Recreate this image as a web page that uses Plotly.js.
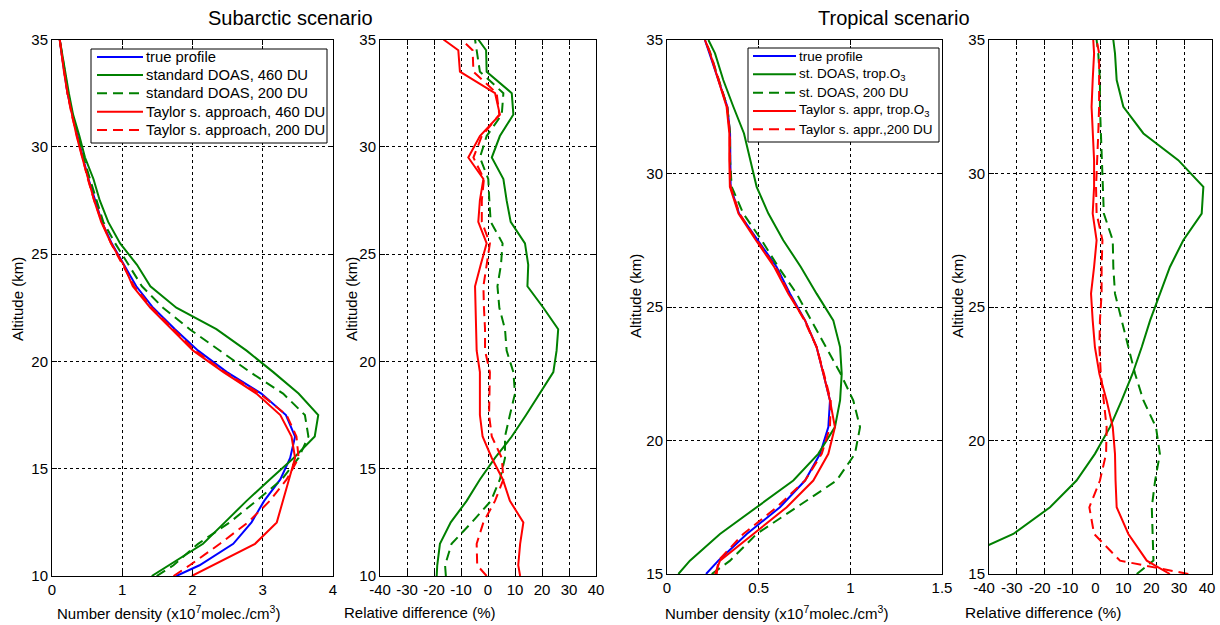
<!DOCTYPE html>
<html>
<head>
<meta charset="utf-8">
<script src="https://cdn.plot.ly/plotly-3.0.1.min.js"></script>
<style>html,body{margin:0;padding:0;background:#fff;}#chart{width:1220px;height:625px;}</style>
</head>
<body>
<div id="chart"></div>
<script>
// ---------- DATA ----------
// Subarctic scenario altitudes (km)
const altSub = [10, 10.5, 11.5, 12.5, 13.5, 14.5, 15.5, 16.5, 17.5, 18.5, 19.5, 20.5, 21.5, 22.5, 23.5, 24.5, 25.5, 26.5, 27.5, 28.5, 29.5, 30.5, 31.5, 32.5, 33.5, 34.5, 35];
// number density (x10^7 molec./cm^3)
const subTrue   = [1.77, 2.10, 2.58, 2.84, 3.02, 3.25, 3.39, 3.46, 3.33, 2.98, 2.49, 2.08, 1.75, 1.44, 1.20, 1.02, 0.85, 0.71, 0.61, 0.52, 0.44, 0.36, 0.29, 0.22, 0.17, 0.13, 0.11];
const subStd460 = [1.42, 1.67, 2.15, 2.46, 2.77, 3.10, 3.44, 3.74, 3.79, 3.51, 3.15, 2.77, 2.34, 1.77, 1.40, 1.21, 0.97, 0.80, 0.68, 0.59, 0.47, 0.39, 0.30, 0.24, 0.19, 0.14, 0.11];
const subStd200 = [1.49, 1.73, 2.08, 2.53, 2.91, 3.27, 3.51, 3.65, 3.60, 3.29, 2.82, 2.39, 1.96, 1.58, 1.28, 1.09, 0.90, 0.73, 0.63, 0.54, 0.45, 0.37, 0.29, 0.23, 0.18, 0.13, 0.11];
const subTay460 = [1.99, 2.29, 2.89, 3.20, 3.29, 3.38, 3.46, 3.41, 3.25, 2.91, 2.44, 2.01, 1.70, 1.40, 1.15, 1.02, 0.84, 0.70, 0.60, 0.51, 0.43, 0.35, 0.28, 0.22, 0.17, 0.13, 0.11];
const subTay200 = [1.73, 1.96, 2.39, 2.79, 3.10, 3.34, 3.51, 3.48, 3.34, 2.96, 2.46, 2.04, 1.73, 1.42, 1.17, 1.00, 0.84, 0.71, 0.60, 0.51, 0.43, 0.36, 0.28, 0.22, 0.17, 0.13, 0.11];
// relative difference (%)
const subRelStd460 = [-19.0, -18.8, -17.8, -13.8, -7.9, -3.0, 2.6, 8.8, 14.1, 19.3, 24.2, 25.4, 26.0, 20.5, 14.6, 14.9, 13.7, 8.4, 6.9, 5.7, 1.4, 4.4, 9.4, 8.8, -0.5, -0.7, -3.6];
const subRelStd200 = [-15.6, -15.9, -13.5, -6.0, 1.1, 4.4, 6.3, 6.3, 8.1, 10.0, 9.4, 6.9, 6.3, 4.2, 3.5, 4.8, 5.4, 1.0, 0.5, 0.1, -3.0, -0.5, 5.1, 5.7, -3.0, -4.2, -4.8];
const subRelTay460 = [11.9, 11.2, 11.9, 13.1, 8.1, 5.5, 1.4, -2.0, -3.0, -3.0, -3.0, -4.2, -4.4, -4.8, -4.8, -2.7, -0.5, -3.6, -3.0, -1.7, -7.3, -3.0, 4.4, 2.6, -10.4, -11.0, -16.5];
const subRelTay200 = [-0.5, -4.0, -4.2, -1.7, 2.6, 5.7, 5.1, 1.4, 0.4, 0.5, 0.7, -1.1, -1.1, -1.5, -1.7, -0.5, 0.7, -2.3, -2.3, -1.5, -5.4, -2.3, 4.2, 3.2, -5.4, -5.7, -9.8];

// Tropical scenario altitudes (km)
const altTrop = [15, 15.5, 16.5, 17.5, 18.5, 19.5, 20.5, 21.5, 22.5, 23.5, 24.5, 25.5, 26.5, 27.5, 28.5, 29.5, 30.5, 31.5, 32.5, 33.5, 34.5, 35];
const tropTrue    = [0.213, 0.28, 0.435, 0.616, 0.753, 0.835, 0.88, 0.889, 0.853, 0.816, 0.753, 0.671, 0.598, 0.493, 0.393, 0.347, 0.344, 0.344, 0.329, 0.28, 0.235, 0.207];
const tropStdTrop = [0.062, 0.125, 0.289, 0.489, 0.689, 0.825, 0.916, 0.944, 0.953, 0.944, 0.907, 0.816, 0.73, 0.634, 0.553, 0.489, 0.453, 0.42, 0.362, 0.307, 0.262, 0.226];
const tropStd200  = [0.244, 0.344, 0.489, 0.707, 0.925, 1.025, 1.053, 1.016, 0.947, 0.867, 0.785, 0.707, 0.607, 0.516, 0.416, 0.353, 0.344, 0.344, 0.329, 0.282, 0.237, 0.209];
const tropTayTrop = [0.262, 0.289, 0.471, 0.653, 0.798, 0.88, 0.916, 0.889, 0.853, 0.816, 0.753, 0.662, 0.585, 0.485, 0.39, 0.343, 0.34, 0.34, 0.325, 0.28, 0.235, 0.207];
const tropTay200  = [0.271, 0.28, 0.416, 0.598, 0.753, 0.844, 0.889, 0.893, 0.856, 0.816, 0.749, 0.667, 0.592, 0.49, 0.395, 0.347, 0.343, 0.343, 0.328, 0.281, 0.236, 0.208];
const tropRelStdTrop = [-60, -52.4, -31.3, -18.1, -8.6, -2.0, 3.4, 7.6, 11.5, 14.8, 17.8, 21.3, 24.9, 29.7, 36.3, 36.9, 27.9, 15.4, 8.2, 5.8, 5.2, 4.6];
const tropRelStd200  = [13.0, 19.0, 18.7, 18.4, 19.6, 21.3, 19.9, 15.4, 12.4, 10.0, 7.6, 5.2, 4.6, 4.4, 1.2, 0.8, 0.5, 0.1, -0.2, -0.2, -0.8, -1.4];
const tropRelTayTrop = [24.9, 16.6, 10.0, 5.8, 5.4, 5.2, 4.4, 2.2, -0.4, -2.0, -2.8, -3.4, -2.3, -1.4, -2.8, -2.3, -2.3, -2.8, -3.2, -2.8, -2.3, -2.6];
const tropRelTay200  = [31.5, 7.0, -2.3, -4.0, -0.2, 2.0, 2.2, 1.2, 0.1, -0.4, -0.2, 0.4, 0.4, 0.7, -1.4, -1.6, -1.1, -0.8, -0.5, -0.5, -0.5, -1.4];

// tick labels
const subAltTicks = [10, 15, 20, 25, 30, 35];
const tropAltTicks = [15, 20, 25, 30, 35];
const subDensTicks = [0, 1, 2, 3, 4];
const tropDensTicks = [0, 0.5, 1, 1.5];
const tropDensLabels = ['0', '0.5', '1', '1.5'];
const relTicks = [-40, -30, -20, -10, 0, 10, 20, 30, 40];
const relLabels = ['-40', '-30', '-20', '-10', '0', '10', '20', '30', '40'];

const subNames = ['true profile', 'standard DOAS, 460 DU', 'standard DOAS, 200 DU', 'Taylor s. approach, 460 DU', 'Taylor s. approach, 200 DU'];
const tropNames = ['true profile', 'st. DOAS, trop.O<sub>3</sub>', 'st. DOAS, 200 DU', 'Taylor s. appr, trop.O<sub>3</sub>', 'Taylor s. appr.,200 DU'];

// ---------- STYLE ----------
const W = 1220, H = 625;
const fx = p => p / W;
const fy = p => 1 - p / H;
const FONT = 'Liberation Sans, Arial, Helvetica, sans-serif';
const BLUE = '#0000ff', GREEN = '#008000', RED = '#ff0000';
const LW = 2;
const DASH = '10px,6px';
const seriesColors = [BLUE, GREEN, GREEN, RED, RED];
const seriesDash = ['solid', 'solid', DASH, 'solid', DASH];

function line(x, y, idx, name, xa, ya) {
  return {
    type: 'scatter', mode: 'lines', x: x, y: y, name: name,
    xaxis: xa, yaxis: ya, showlegend: false,
    line: {color: seriesColors[idx], width: LW, dash: seriesDash[idx]},
    hoverinfo: 'skip'
  };
}

const traces = [
  line(subTrue, altSub, 0, subNames[0], 'x', 'y'),
  line(subStd460, altSub, 1, subNames[1], 'x', 'y'),
  line(subStd200, altSub, 2, subNames[2], 'x', 'y'),
  line(subTay460, altSub, 3, subNames[3], 'x', 'y'),
  line(subTay200, altSub, 4, subNames[4], 'x', 'y'),

  line(subRelStd460, altSub, 1, subNames[1], 'x2', 'y2'),
  line(subRelStd200, altSub, 2, subNames[2], 'x2', 'y2'),
  line(subRelTay460, altSub, 3, subNames[3], 'x2', 'y2'),
  line(subRelTay200, altSub, 4, subNames[4], 'x2', 'y2'),

  line(tropTrue, altTrop, 0, tropNames[0], 'x3', 'y3'),
  line(tropStdTrop, altTrop, 1, tropNames[1], 'x3', 'y3'),
  line(tropStd200, altTrop, 2, tropNames[2], 'x3', 'y3'),
  line(tropTayTrop, altTrop, 3, tropNames[3], 'x3', 'y3'),
  line(tropTay200, altTrop, 4, tropNames[4], 'x3', 'y3'),

  line(tropRelStdTrop, altTrop, 1, tropNames[1], 'x4', 'y4'),
  line(tropRelStd200, altTrop, 2, tropNames[2], 'x4', 'y4'),
  line(tropRelTayTrop, altTrop, 3, tropNames[3], 'x4', 'y4'),
  line(tropRelTay200, altTrop, 4, tropNames[4], 'x4', 'y4')
];

function axis(domain, range, anchor, tickvals, ticktext, extra) {
  const a = {
    domain: domain, range: range, anchor: anchor,
    showline: true, linecolor: '#000', linewidth: 1, mirror: 'ticks',
    ticks: 'inside', ticklen: 5, tickcolor: '#000', tickwidth: 1,
    showgrid: true, gridcolor: '#000', gridwidth: 1, griddash: '3px,3px',
    zeroline: false, tickangle: 0, fixedrange: true,
    ticklabeloverflow: 'allow',
    tickmode: 'array', tickvals: tickvals,
    tickfont: {family: FONT, size: 15, color: '#000'}
  };
  if (ticktext) a.ticktext = ticktext;
  return Object.assign(a, extra || {});
}

const ySub = [fy(576), fy(39.5)];
const yTrop = [fy(574), fy(40)];

function ann(x, y, text, size, angle, anchor) {
  return {xref: 'paper', yref: 'paper', x: fx(x), y: fy(y), text: text, showarrow: false,
          xanchor: anchor || 'center', yanchor: 'middle', textangle: angle || 0,
          font: {family: FONT, size: size, color: '#000'}};
}

const densTitle = 'Number density (x10<sup>7</sup>molec./cm<sup>3</sup>)';
const relTitle = 'Relative difference (%)';
const altTitle = 'Altitude (km)';

const annotations = [
  ann(290.5, 18, 'Subarctic scenario', 20),
  ann(893.5, 18, 'Tropical scenario', 20),
  ann(168, 612, densTitle, 15),
  ann(419, 612, relTitle, 15),
  ann(776, 612, densTitle, 15),
  ann(1043, 612, relTitle, 15.5),
  ann(18, 299, altTitle, 15, -90),
  ann(352, 299, altTitle, 15, -90),
  ann(635, 296, altTitle, 15, -90),
  ann(957, 296, altTitle, 15, -90)
];
const shapes = [];

// Hand-placed legend boxes (MATLAB-style, tight rows)
function addLegend(names, box, lineX0, lineX1, textX, rowY, fsize) {
  shapes.push({type: 'rect', xref: 'paper', yref: 'paper',
    x0: fx(box[0]), x1: fx(box[1]), y0: fy(box[3]), y1: fy(box[2]),
    line: {color: '#000', width: 1}, fillcolor: '#fff', layer: 'above'});
  names.forEach((n, i) => {
    const yy = rowY[i];
    shapes.push({type: 'line', xref: 'paper', yref: 'paper',
      x0: fx(lineX0), x1: fx(lineX1), y0: fy(yy), y1: fy(yy),
      line: {color: seriesColors[i], width: LW, dash: seriesDash[i]}, layer: 'above'});
    annotations.push(ann(textX, yy, n, fsize, 0, 'left'));
  });
}
addLegend(subNames, [91, 327, 49, 143], 97, 143, 144, [57, 75, 93.3, 111.7, 130], 14.8);
addLegend(tropNames, [748, 939, 48, 142], 753, 796, 797, [56, 74.3, 92.7, 111, 129.3], 13.5);

const layout = {
  width: W, height: H,
  margin: {l: 0, r: 0, t: 0, b: 0},
  paper_bgcolor: '#fff', plot_bgcolor: '#fff',
  font: {family: FONT, color: '#000'},
  showlegend: false,
  xaxis:  axis([fx(52), fx(333)], [0, 4], 'y', subDensTicks),
  yaxis:  axis(ySub, [10, 35], 'x', subAltTicks),
  xaxis2: axis([fx(380), fx(596)], [-40, 40], 'y2', relTicks, relLabels),
  yaxis2: axis(ySub, [10, 35], 'x2', subAltTicks),
  xaxis3: axis([fx(667), fx(942)], [0, 1.5], 'y3', tropDensTicks, tropDensLabels),
  yaxis3: axis(yTrop, [15, 35], 'x3', tropAltTicks),
  xaxis4: axis([fx(989), fx(1212)], [-40, 40], 'y4', relTicks, relLabels, {ticklabelshift: -5}),
  yaxis4: axis(yTrop, [15, 35], 'x4', tropAltTicks),
  shapes: shapes,
  annotations: annotations
};

Plotly.newPlot('chart', traces, layout, {displayModeBar: false, staticPlot: true});
</script>
</body>
</html>
